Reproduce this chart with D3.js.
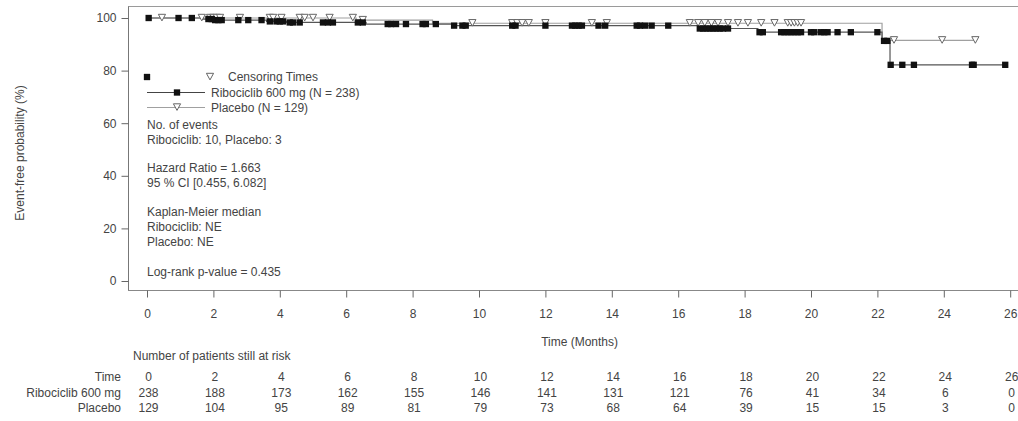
<!DOCTYPE html>
<html>
<head>
<meta charset="utf-8">
<script src="https://cdn.jsdelivr.net/npm/d3@7"></script>
<style>
  html, body { margin: 0; padding: 0; background: #fff; }
  svg { display: block; }
  text { font-family: "Liberation Sans", Arial, sans-serif; font-size: 12px; fill: #444; }
</style>
</head>
<body>
<svg id="chart" width="1018" height="421"></svg>
<script>
// Kaplan-Meier step data: event times (months) and survival (%) after each event
const ribEventTimes = [1.7, 2.0, 3.6, 4.2, 6.6, 9.2, 16.6, 18.4, 22.14, 22.38];
const ribEventSurv  = [99.6, 99.2, 98.7, 98.3, 97.7, 97.1, 96.0, 94.6, 91.3, 82.2];
const plaEventTimes = [6.3, 8.6, 22.14];
const plaEventSurv  = [99.2, 98.0, 91.5];

// Censoring times (months)
const ribCensor = [0.05, 0.95, 1.35, 1.85, 1.95, 2.05, 2.15, 2.25, 2.75, 3.05, 3.45, 3.7, 3.9, 4.0, 4.1,
  4.3, 4.4, 4.6, 5.3, 5.45, 5.6, 6.35, 6.5, 7.25, 7.35, 7.5, 7.8, 8.3, 8.4, 8.7, 9.25, 9.5, 9.6,
  11.0, 11.1, 12.0, 12.8, 12.9, 13.0, 13.1, 13.6, 13.8, 14.75, 14.85, 15.0, 15.2, 15.7,
  16.65, 16.75, 16.85, 16.95, 17.05, 17.15, 17.25, 17.35, 17.5, 18.45, 18.55, 19.1, 19.2, 19.3,
  19.4, 19.5, 19.6, 19.7, 20.0, 20.1, 20.3, 20.4, 20.5, 20.8, 21.2, 22.0, 22.2, 22.3, 22.4,
  22.75, 23.1, 24.85, 24.9, 25.85];
const plaCensor = [0.45, 1.65, 1.9, 2.0, 2.1, 2.2, 2.8, 3.7, 3.8, 4.05, 4.6, 4.75, 5.0, 5.5, 6.2,
  6.5, 9.8, 11.0, 11.15, 11.3, 11.5, 12.0, 13.4, 13.85, 16.35, 16.6, 16.8, 17.0, 17.2, 17.5,
  17.8, 18.1, 18.5, 18.9, 19.3, 19.4, 19.5, 19.6, 19.7, 22.5, 23.95, 24.95];

// Axis ticks
const xTicks = [0, 2, 4, 6, 8, 10, 12, 14, 16, 18, 20, 22, 24, 26];
const yTicks = [0, 20, 40, 60, 80, 100];

// Number at risk table
const riskTimes = [0, 2, 4, 6, 8, 10, 12, 14, 16, 18, 20, 22, 24, 26];
const ribAtRisk = [238, 188, 173, 162, 155, 146, 141, 131, 121, 76, 41, 34, 6, 0];
const plaAtRisk = [129, 104, 95, 89, 81, 79, 73, 68, 64, 39, 15, 15, 3, 0];

// Annotation text
const legendLabels = ["Censoring Times", "Ribociclib 600 mg (N = 238)", "Placebo (N = 129)"];
const statLines = [
  ["No. of events", 129], ["Ribociclib: 10, Placebo: 3", 144],
  ["Hazard Ratio = 1.663", 172], ["95 % CI [0.455, 6.082]", 187],
  ["Kaplan-Meier median", 216], ["Ribociclib: NE", 231], ["Placebo: NE", 246],
  ["Log-rank p-value = 0.435", 276]
];

const svg = d3.select("#chart");
const x = d3.scaleLinear().domain([0, 26]).range([147, 1010.2]);
const y = d3.scaleLinear().domain([0, 100]).range([281, 18]);

const frameLeft = 128, frameTop = 6.5, axisY = 290.5;

// Survival value at a given time for a step function
function survAt(times, surv, t) {
  let s = 100;
  for (let i = 0; i < times.length; i++) if (times[i] <= t) s = surv[i];
  return s;
}
function stepPoints(times, surv, end) {
  const pts = [[0, 100]];
  times.forEach((t, i) => pts.push([t, surv[i]]));
  pts.push([end, surv[surv.length - 1]]);
  return pts;
}

// Frame and axis lines
svg.append("line").attr("x1", frameLeft).attr("x2", 1018).attr("y1", frameTop).attr("y2", frameTop)
  .attr("stroke", "#9a9a9a");
svg.append("line").attr("x1", frameLeft + 0.5).attr("x2", frameLeft + 0.5).attr("y1", frameTop).attr("y2", axisY)
  .attr("stroke", "#777");
svg.append("line").attr("x1", frameLeft).attr("x2", 1018).attr("y1", axisY).attr("y2", axisY)
  .attr("stroke", "#888");

// Y axis
const yAxis = svg.append("g").attr("transform", `translate(${frameLeft + 0.5},0)`)
  .call(d3.axisLeft(y).tickValues(yTicks).tickSize(7).tickPadding(5));
yAxis.select(".domain").remove();
yAxis.selectAll("line").attr("stroke", "#666");
yAxis.selectAll("text").attr("font-size", 12).attr("font-family", null).style("fill", "#444");

// X axis
const xAxis = svg.append("g").attr("transform", `translate(0,${axisY})`)
  .call(d3.axisBottom(x).tickValues(xTicks).tickSize(7).tickPadding(12));
xAxis.select(".domain").remove();
xAxis.selectAll("line").attr("stroke", "#666");
xAxis.selectAll("text").attr("font-size", 12).attr("font-family", null).style("fill", "#444");

// Axis titles
svg.append("text").attr("transform", "translate(24,153) rotate(-90)")
  .attr("text-anchor", "middle").text("Event-free probability (%)");
svg.append("text").attr("x", x(13) + 1).attr("y", 346).attr("text-anchor", "middle").text("Time (Months)");

// KM curves
const line = d3.line().x(d => x(d[0])).y(d => y(d[1])).curve(d3.curveStepAfter);
svg.append("path").datum(stepPoints(plaEventTimes, plaEventSurv, d3.max(plaCensor)))
  .attr("d", line).attr("fill", "none").attr("stroke", "#a0a0a0").attr("stroke-width", 1.2);
svg.append("path").datum(stepPoints(ribEventTimes, ribEventSurv, d3.max(ribCensor)))
  .attr("d", line).attr("fill", "none").attr("stroke", "#555").attr("stroke-width", 1.2);

// Censoring marks
const triPath = "M-3.6,-3.2L3.6,-3.2L0,3.4Z";
const squarePath = d3.symbol(d3.symbolSquare, 40)();
svg.append("g").selectAll("path").data(plaCensor).join("path")
  .attr("d", triPath)
  .attr("transform", d => `translate(${x(d)},${y(survAt(plaEventTimes, plaEventSurv, d)) - 0.5})`)
  .attr("fill", "#fff").attr("stroke", "#666").attr("stroke-width", 1);
svg.append("g").selectAll("path").data(ribCensor).join("path")
  .attr("d", squarePath)
  .attr("transform", d => `translate(${x(d)},${y(survAt(ribEventTimes, ribEventSurv, d))})`)
  .attr("fill", "#111");

// Legend
const lg = svg.append("g");
lg.append("path").attr("d", squarePath).attr("transform", "translate(147,77)").attr("fill", "#111");
lg.append("path").attr("d", triPath).attr("transform", "translate(210,76.5)")
  .attr("fill", "#fff").attr("stroke", "#666");
lg.append("text").attr("x", 228).attr("y", 81).text(legendLabels[0]);
lg.append("line").attr("x1", 147).attr("x2", 205).attr("y1", 92.5).attr("y2", 92.5).attr("stroke", "#444");
lg.append("path").attr("d", squarePath).attr("transform", "translate(177,92.5)").attr("fill", "#111");
lg.append("text").attr("x", 211).attr("y", 96.5).text(legendLabels[1]);
lg.append("line").attr("x1", 147).attr("x2", 205).attr("y1", 107.5).attr("y2", 107.5).attr("stroke", "#a0a0a0");
lg.append("path").attr("d", triPath).attr("transform", "translate(177,107)")
  .attr("fill", "#fff").attr("stroke", "#666");
lg.append("text").attr("x", 211).attr("y", 111.5).text(legendLabels[2]);

// Statistics block
svg.append("g").selectAll("text").data(statLines).join("text")
  .attr("x", 147).attr("y", d => d[1]).text(d => d[0]);

// Number at risk table
svg.append("text").attr("x", 133).attr("y", 360).text("Number of patients still at risk");
const rows = [["Time", riskTimes, 381], ["Ribociclib 600 mg", ribAtRisk, 397], ["Placebo", plaAtRisk, 412]];
rows.forEach(([label, vals, yy]) => {
  svg.append("text").attr("x", 121).attr("y", yy).attr("text-anchor", "end").text(label);
  svg.append("g").selectAll("text").data(vals).join("text")
    .attr("x", (d, i) => x(riskTimes[i]) + 1.5).attr("y", yy)
    .attr("text-anchor", "middle").text(d => d);
});
</script>
</body>
</html>
